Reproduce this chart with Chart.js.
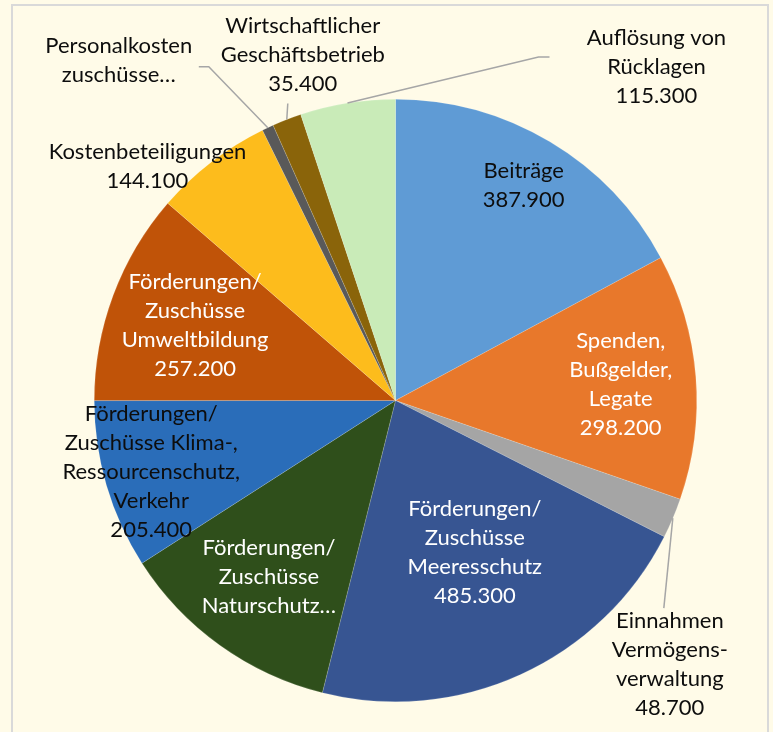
<!DOCTYPE html>
<html>
<head>
<meta charset="utf-8">
<script src="https://cdn.jsdelivr.net/npm/chart.js@4"></script>
<style>
  html, body { margin: 0; padding: 0; background: #FFFBE8; overflow: hidden; }
  #rahmen { position: absolute; left: 11px; top: 4px; width: 754px; height: 800px; border: 2px solid #D9D9D9; }
  #wrap { position: absolute; left: 0; top: 0; width: 773px; height: 732px; }
</style>
</head>
<body>
<div id="rahmen"></div>
<div id="wrap"><canvas id="einnahmen"></canvas></div>
<script>
// Kategorien (Zeilen wie im Original umbrochen)
const kategorien = [
    ['Beiträge'],
    ['Spenden,', 'Bußgelder,', 'Legate'],
    ['Einnahmen', 'Vermögens-', 'verwaltung'],
    ['Förderungen/', 'Zuschüsse', 'Meeresschutz'],
    ['Förderungen/', 'Zuschüsse', 'Naturschutz…'],
    ['Förderungen/', 'Zuschüsse Klima-,', 'Ressourcenschutz,', 'Verkehr'],
    ['Förderungen/', 'Zuschüsse', 'Umweltbildung'],
    ['Kostenbeteiligungen'],
    ['Personalkosten', 'zuschüsse…'],
    ['Wirtschaftlicher', 'Geschäftsbetrieb'],
    ['Auflösung von', 'Rücklagen']
]
const betraege = [387900, 298200, 48700, 485300, 272000, 205400, 257200, 144100, 14000, 35400, 115300]
// bei abgeschnittenen Beschriftungen steht kein Wert
const wertZeigen = [true, true, true, true, false, true, true, true, false, true, true]

const farben = ['#5F9BD5', '#E8782B', '#A5A5A5', '#375592', '#2F4F1B', '#2A6DB9',
                '#C05308', '#FDBC1C', '#595959', '#8A640A', '#C9EBB8']
const textFarben = ['#0D0D0D', '#FFFFFF', '#0D0D0D', '#FFFFFF', '#FFFFFF', '#0D0D0D',
                    '#FFFFFF', '#0D0D0D', '#0D0D0D', '#0D0D0D', '#0D0D0D']

// Lage der Beschriftung: k = Anteil am Radius auf der Mittellinie, dx/dy = Verschiebung,
// linie = Knickpunkte der Führungslinie relativ zur Beschriftung
const beschriftung = [
    {k: 0.83, dx: 0, dy: 0},
    {k: 0.75, dx: 0, dy: 2},
    {k: 1.0, dx: -3, dy: 146, linie: [[-6, -56]]},
    {k: 0.57, dx: 8, dy: -4},
    {k: 0.72, dx: 0, dy: 0},
    {k: 0.845, dx: 0, dy: 0},
    {k: 0.71, dx: 0, dy: 0},
    {k: 1.0, dx: -64, dy: 4},
    {k: 1.0, dx: -149, dy: -67, linie: [[90, 6], [80, 6]]},
    {k: 1.0, dx: 16, dy: -65, linie: [[-15, 49]]},
    {k: 1.0, dx: 309, dy: -36, linie: [[-118, -10], [-107, -10]]}
]

const zahl = v => v.toLocaleString('de-DE')

const datenBeschriftung = {
    id: 'datenBeschriftung',
    afterDatasetsDraw(chart) {
        const ctx = chart.ctx
        const meta = chart.getDatasetMeta(0)
        ctx.save()
        ctx.font = '22px Lato'
        ctx.textAlign = 'center'
        ctx.textBaseline = 'middle'
        meta.data.forEach((arc, i) => {
            const p = arc.getProps(['x', 'y', 'startAngle', 'endAngle', 'outerRadius'], true)
            const mitte = (p.startAngle + p.endAngle) / 2
            const b = beschriftung[i]
            const rand = {x: p.x + Math.cos(mitte) * p.outerRadius, y: p.y + Math.sin(mitte) * p.outerRadius}
            const lx = p.x + Math.cos(mitte) * p.outerRadius * b.k + b.dx
            const ly = p.y + Math.sin(mitte) * p.outerRadius * b.k + b.dy
            if (b.linie) {
                ctx.strokeStyle = '#A6A6A6'
                ctx.lineWidth = 1.5
                ctx.beginPath()
                ctx.moveTo(rand.x, rand.y)
                b.linie.forEach(q => ctx.lineTo(lx + q[0], ly + q[1]))
                ctx.stroke()
            }
            const zeilen = kategorien[i].slice()
            if (wertZeigen[i]) zeilen.push(zahl(betraege[i]))
            const zh = 29
            const y0 = ly - (zeilen.length - 1) * zh / 2
            ctx.fillStyle = textFarben[i]
            zeilen.forEach((z, j) => ctx.fillText(z, lx, y0 + j * zh))
        })
        ctx.restore()
    }
}

const einnahmen = document.getElementById('einnahmen').getContext('2d')

new Chart(einnahmen, {
    type: 'pie',
    data: {
        labels: kategorien.map(k => k.join(' ')),
        datasets: [{
            data: betraege,
            backgroundColor: farben,
            borderColor: 'rgba(255,255,255,0.3)',
            borderWidth: 0.5
        }]
    },
    options: {
        responsive: true,
        maintainAspectRatio: false,
        animation: false,
        layout: {
            padding: {left: 94, right: 76, top: 99, bottom: 30}
        },
        plugins: {
            legend: {display: false},
            tooltip: {enabled: false}
        }
    },
    plugins: [datenBeschriftung]
});
</script>
</body>
</html>
